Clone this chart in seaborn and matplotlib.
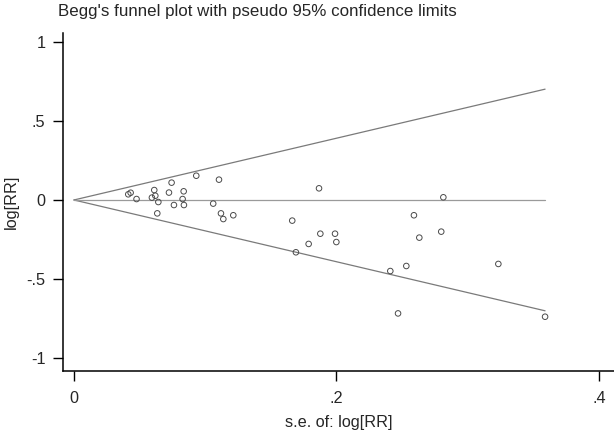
import numpy as np
import pandas as pd
import matplotlib
matplotlib.use('Agg')
import matplotlib.pyplot as plt
import seaborn as sns

# standard errors and log risk ratios
se_log_rr = [0.0414, 0.0432, 0.0477, 0.0594, 0.0612, 0.0620, 0.0643, 0.0635,
             0.0744, 0.0724, 0.0762, 0.0836, 0.0828, 0.0838, 0.0932, 0.1105,
             0.1061, 0.1120, 0.1138, 0.1214, 0.1663, 0.1691, 0.1788, 0.1867,
             0.1877, 0.1989, 0.1999, 0.2410, 0.2469, 0.2532, 0.2590, 0.2631,
             0.2798, 0.2814, 0.3233, 0.3589]
log_rr = [0.036, 0.046, 0.006, 0.015, 0.063, 0.027, -0.013, -0.085,
          0.110, 0.047, -0.032, 0.055, 0.006, -0.032, 0.154, 0.129,
          -0.023, -0.085, -0.121, -0.097, -0.131, -0.332, -0.279, 0.074,
          -0.214, -0.214, -0.267, -0.451, -0.720, -0.419, -0.097, -0.239,
          -0.201, 0.017, -0.406, -0.741]
pooled = 0.0

x_ticks = [0, 0.2, 0.4]
x_tick_labels = ['0', '.2', '.4']
y_ticks = [-1, -0.5, 0, 0.5, 1]
y_tick_labels = ['-1', '-.5', '0', '.5', '1']

df = pd.DataFrame({'se': se_log_rr, 'logrr': log_rr})

# pseudo 95% limits
max_se = max(se_log_rr)
lim = pd.DataFrame({'se': [0, max_se]})
lim['upper'] = pooled + 1.96 * lim['se']
lim['lower'] = pooled - 1.96 * lim['se']
lim['mid'] = pooled

sns.set_style('white')
plt.rcParams['font.family'] = ['Liberation Sans', 'DejaVu Sans']

fig = plt.figure(figsize=(6.14, 4.34), dpi=100)
ax = fig.add_axes([0.102, 0.145, 0.898, 0.779])

sns.lineplot(data=lim, x='se', y='upper', ax=ax, color='#7a7a7a', lw=0.9)
sns.lineplot(data=lim, x='se', y='lower', ax=ax, color='#7a7a7a', lw=0.9)
sns.lineplot(data=lim, x='se', y='mid', ax=ax, color='#9a9a9a', lw=0.9)
sns.scatterplot(data=df, x='se', y='logrr', ax=ax, marker='o', s=16,
                facecolor='none', edgecolor='#4a4a4a', linewidth=0.7, zorder=3)

ax.set_xlim(-0.0086, 0.4114)
ax.set_ylim(-1.086, 1.06)
ax.set_xticks(x_ticks)
ax.set_xticklabels(x_tick_labels)
ax.set_yticks(y_ticks)
ax.set_yticklabels(y_tick_labels)
ax.tick_params(axis='both', direction='out', length=7, width=1, color='black',
               labelsize=11.7, left=True, bottom=True)
ax.tick_params(axis='x', pad=7)
ax.tick_params(axis='y', pad=5.5)

for side in ['top', 'right']:
    ax.spines[side].set_visible(False)
for side in ['left', 'bottom']:
    ax.spines[side].set_color('black')
    ax.spines[side].set_linewidth(1.1)

ax.set_xlabel('s.e. of: log[RR]', fontsize=11.7, labelpad=7)
ax.set_ylabel('log[RR]', fontsize=11.7, labelpad=5)
fig.text(0.095, 0.974, "Begg's funnel plot with pseudo 95% confidence limits",
         fontsize=12.2, ha='left', va='center')

fig.savefig('out.png', dpi=100)
